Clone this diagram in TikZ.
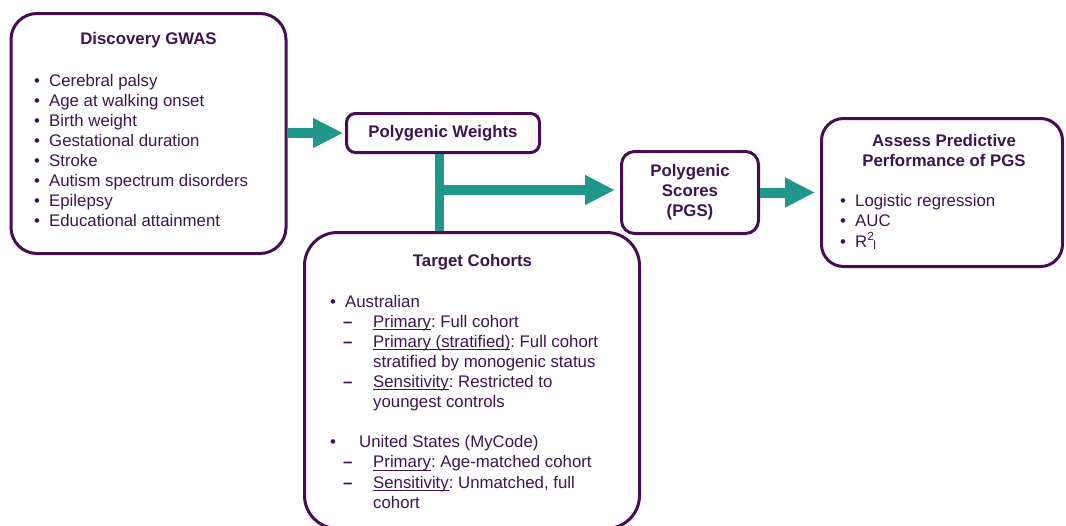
\documentclass[tikz,border=0pt]{standalone}
\usepackage{fontspec}
\setmainfont{Liberation Sans}
\usetikzlibrary{arrows.meta}
\definecolor{boxpurple}{RGB}{72,12,84}
\definecolor{txtpurple}{RGB}{62,20,80}
\definecolor{flowteal}{RGB}{31,151,138}
\newcommand{\bul}{\makebox[15pt][l]{\textbullet}}
\newcommand{\dsh}{\hspace*{13pt}\makebox[30pt][l]{\textbf{--}}}
\newcommand{\undr}[1]{\setbox0\hbox{#1}\rlap{\rule[-2.6pt]{\wd0}{0.9pt}}\box0}
\frenchspacing

\begin{document}
\begin{tikzpicture}[x=1pt,y=-1pt,
    panel/.style={draw=boxpurple,line width=3pt,rounded corners=#1,inner sep=0pt,
        text=txtpurple,align=center,font=\fontsize{16.8}{20.1}\selectfont\bfseries},
    txt/.style={text=txtpurple,inner sep=0pt,font=\fontsize{16.8}{20.1}\selectfont},
    flow/.style={draw=flowteal,line width=10pt,-{Triangle[length=30pt,width=28pt]}}]
    \useasboundingbox (0,0) rectangle (1066,525);
    \clip (0,0) rectangle (1066,525);

    \node[panel=26pt,minimum width=275pt,minimum height=240pt] (gwas) at (148.5,133.5) {};
    \node[panel=9pt,minimum width=193pt,minimum height=39pt] (weights) at (443,133) {Polygenic Weights};
    \node[panel=13pt,minimum width=137pt,minimum height=82pt] (scores) at (690,192.5) {Polygenic\\Scores\\(PGS)};
    \node[panel=22pt,minimum width=241pt,minimum height=148pt] (assess) at (942,192.5) {};
    \node[panel=33pt,minimum width=335pt,minimum height=296pt] (cohorts) at (472,380.5) {};

    \node[txt,font=\fontsize{16.8}{20.1}\selectfont\bfseries,anchor=base] (gwastitle) at (148.5,44.3) {Discovery GWAS};
    \node[txt,anchor=north west,align=left] (gwaslist) at (34,73.8) {\bul Cerebral palsy\\
        \bul Age at walking onset\\
        \bul Birth weight\\
        \bul Gestational duration\\
        \bul Stroke\\
        \bul Autism spectrum disorders\\
        \bul Epilepsy\\
        \bul Educational attainment};

    \node[txt,font=\fontsize{16.8}{20.1}\selectfont\bfseries,anchor=north,align=center] (assesstitle) at (944,134.5) {Assess Predictive\\Performance of PGS};
    \node[txt,anchor=north west,align=left] (assesslist) at (840,194.5) {\bul Logistic regression\\
        \bul AUC\\
        \bul R\textsuperscript{2}\kern-1pt\textsubscript{l}};

    \node[txt,font=\fontsize{16.8}{20.1}\selectfont\bfseries,anchor=base] (cohortstitle) at (472.5,266) {Target Cohorts};
    \node[txt,anchor=north west,align=left] (cohortslist) at (330,294.8) {\bul Australian\\
        \dsh\undr{Primary}: Full cohort\\
        \dsh\undr{Primary (stratified)}: Full cohort\\
        \hspace*{43pt}stratified by monogenic status\\
        \dsh\undr{Sensitivity}: Restricted to\\
        \hspace*{43pt}youngest controls\\[20.1pt]
        \makebox[29pt][l]{\textbullet}United States (MyCode)\\
        \dsh\undr{Primary}: Age-matched cohort\\
        \dsh\undr{Sensitivity}: Unmatched, full\\
        \hspace*{43pt}cohort};

    \coordinate (junction) at (439,190);
    \draw[flowteal,line width=9pt] (weights.south -| junction) -- (cohorts.north -| junction);
    \draw[flow,shorten >=2pt] (gwas.east |- weights.west) -- (weights.west);
    \draw[flow,shorten >=5pt] (junction) -- (junction -| scores.west);
    \draw[flow,shorten >=5pt] (scores.east) -- (scores.east -| assess.west);
\end{tikzpicture}
\end{document}
